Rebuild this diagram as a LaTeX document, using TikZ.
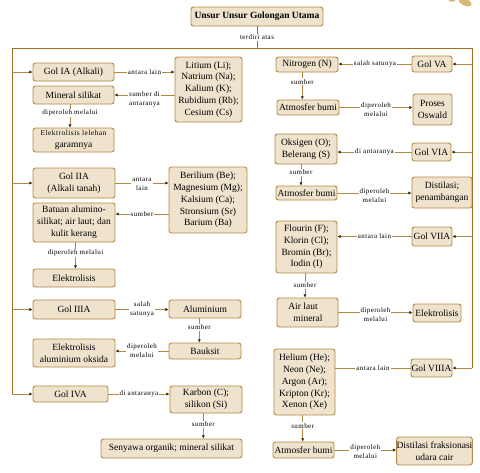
\documentclass[tikz,border=0pt]{standalone}
\usepackage{fontspec}
\setmainfont{Liberation Serif}
\newfontfamily\lblfont[LetterSpace=6]{Liberation Serif}
\usetikzlibrary{arrows.meta}
\definecolor{boxfill}{HTML}{EFE3CE}
\definecolor{boxdraw}{HTML}{B38A45}
\definecolor{linecol}{HTML}{B08840}
\definecolor{trunkcol}{HTML}{A0701F}
\definecolor{tipcol}{HTML}{3A2A12}
\definecolor{leafcol}{HTML}{D8B774}
\newcommand\bx[6]{\node[box, minimum width={(#4-#2)*1pt}, minimum height={(#5-#3)*1pt}] (#1) at ({(#2+#4)/2},{(#3+#5)/2}) {#6};}
\begin{document}
\begin{tikzpicture}[x=1pt,y=-1pt,
 box/.style={draw=boxdraw, fill=boxfill, line width=0.9pt, rounded corners=2.5pt, inner sep=0pt, align=center, font=\fontsize{9.5}{11.8}\selectfont},
 lbl/.style={fill=white, inner sep=1pt, align=center, font=\lblfont\fontsize{7}{9.2}\selectfont},
 conn/.style={draw=linecol, line width=0.9pt},
 arr/.style={conn, -{Latex[length=3.2pt,width=3.2pt,color=tipcol]}},
 trunk/.style={draw=trunkcol, line width=0.9pt}]
\useasboundingbox (0,0) rectangle (480,472);
\fill[white] (0,0) rectangle (480,472);
% decoration
\fill[leafcol, rotate around={-25:(465,2)}] (465,2) ellipse (7 and 3.5);
\fill[leafcol] (452,0) ellipse (3.5 and 1.8);

% title
\bx{title}{191}{7}{323}{26}{\bfseries Unsur Unsur Golongan Utama}
\coordinate (TT) at (257,48);
\coordinate (LT) at (12,48);
\coordinate (RT) at (472,48);

% left column
\bx{gia}{33}{63}{114}{81}{Gol IA (Alkali)}
\bx{lit}{175}{57}{242}{122}{Litium (Li);\\Natrium (Na);\\Kalium (K);\\Rubidium (Rb);\\Cesium (Cs)}
\bx{mins}{33}{86}{114}{104}{Mineral silikat}
\bx{ell}{33}{128}{114}{152}{\lblfont\fontsize{7.5}{10}\selectfont Elektrolisis lelehan\\garamnya}

\bx{giia}{33}{168}{115}{198}{Gol IIA\\(Alkali tanah)}
\bx{ber}{169}{167}{247}{233}{Berilium (Be);\\Magnesium (Mg);\\Kalsium (Ca);\\Stronsium (Sr)\\Barium (Ba)}
\bx{bat}{33}{203}{115}{242}{Batuan alumino-\\silikat; air laut; dan\\kulit kerang}
\bx{elk1}{33}{269}{115}{287}{Elektrolisis}

\bx{giiia}{33}{300}{115}{319}{Gol IIIA}
\bx{alu}{169}{300}{241}{318}{Aluminium}
\bx{baux}{169}{343}{241}{359}{Bauksit}
\bx{elal}{33}{339}{115}{367}{Elektrolisis\\aluminium oksida}

\bx{giva}{33}{386}{108}{402}{Gol IVA}
\bx{karb}{170}{386}{242}{413}{Karbon (C);\\silikon (Si)}
\bx{seny}{101}{439}{242}{458}{Senyawa organik; mineral silikat}

% right column
\bx{nit}{276}{57}{338}{72}{Nitrogen (N)}
\bx{gva}{412}{56}{452}{72}{Gol VA}
\bx{atm1}{277}{100}{339}{115}{Atmosfer bumi}
\bx{osw}{413}{94}{452}{125}{Proses\\Oswald}

\bx{oks}{275}{134}{337}{164}{Oksigen (O);\\Belerang (S)}
\bx{gvia}{412}{143}{451}{161}{Gol VIA}
\bx{atm2}{276}{186}{337}{200}{Atmosfer bumi}
\bx{dist}{412}{177}{472}{208}{Distilasi;\\penambangan}

\bx{flo}{276}{221}{337}{273}{Flourin (F);\\Klorin (Cl);\\Bromin (Br);\\Iodin (I)}
\bx{gviia}{412}{227}{452}{246}{Gol VIIA}
\bx{air}{277}{298}{338}{327}{Air laut\hspace*{9pt}\\\hspace*{1pt}mineral}
\bx{elk2}{413}{304}{461}{322}{Elektrolisis}

\bx{hel}{274}{349}{335}{415}{Helium (He);\\Neon (Ne);\\Argon (Ar);\\Kripton (Kr);\\Xenon (Xe)}
\bx{gviiia}{411}{359}{452}{377}{Gol VIIIA}
\bx{atm3}{273}{442}{334}{458}{Atmosfer bumi}
\bx{dfr}{397}{437}{472}{465}{Distilasi fraksionasi\\udara cair}

% trunk lines
\draw[trunk] (title.south) -- node[lbl]{terdiri atas} (TT);
\draw[trunk] (LT |- giva.west) -- (LT) -- (RT) -- (RT |- gviiia.east);
\draw[arr] (LT |- gia.west) -- (gia.west);
\draw[arr] (LT |- giia.west) -- (giia.west);
\draw[arr] (LT |- giiia.west) -- (giiia.west);
\draw[arr] (LT |- giva.west) -- (giva.west);
\draw[arr] (RT |- gva.east) -- (gva.east);
\draw[arr] (RT |- gvia.east) -- (gvia.east);
\draw[arr] (RT |- gviia.east) -- (gviia.east);
\draw[arr] (RT |- gviiia.east) -- (gviiia.east);

% left connectors
\draw[arr] (gia.east) -- node[lbl]{antara lain} (gia.east -| lit.west);
\draw[arr] (lit.west |- mins.east) -- node[lbl, yshift=-4pt]{sumber di\\antaranya} (mins.east);
\coordinate (m1) at ([xshift=-3.5pt]mins.south);
\draw[arr] (m1) -- node[lbl, pos=0.38]{diperoleh melalui} (m1 |- ell.north);

\draw[arr] (giia.east) -- node[lbl, yshift=-1pt]{antara\\lain} (giia.east -| ber.west);
\coordinate (batin) at ([yshift=8.5pt]bat.east);
\draw[arr] (ber.west |- batin) -- node[lbl]{sumber} (batin);
\coordinate (b1) at ([xshift=1.5pt]bat.south);
\draw[arr] (b1) -- node[lbl, pos=0.4]{diperoleh melalui} (b1 |- elk1.north);

\draw[arr] (giiia.east) -- node[lbl]{salah\\satunya} (giiia.east -| alu.west);
\coordinate (a1) at ([xshift=-5.7pt]alu.south);
\draw[arr] (a1) -- node[lbl, pos=0.36]{sumber} (a1 |- baux.north);
\draw[arr] (baux.west) -- node[lbl]{diperoleh\\melalui} (baux.west -| elal.east);

\draw[arr] (giva.east) -- node[lbl]{di antaranya} (giva.east -| karb.west);
\coordinate (k1) at ([xshift=-2.7pt]karb.south);
\draw[arr] (k1) -- node[lbl, pos=0.43]{sumber} (k1 |- seny.north);

% right connectors
\draw[arr] (gva.west) -- node[lbl]{salah satunya} (gva.west -| nit.east);
\coordinate (n1) at ([xshift=-4.7pt]nit.south);
\draw[arr] (n1) -- node[lbl, pos=0.35]{sumber} (n1 |- atm1.north);
\draw[arr] (atm1.east) -- node[lbl, yshift=-2pt]{diperoleh\\melalui} (atm1.east -| osw.west);

\draw[arr] (gvia.west) -- node[lbl]{di antaranya} (gvia.west -| oks.east);
\coordinate (o1) at ([xshift=-5pt]oks.south);
\draw[arr] (o1) -- node[lbl, pos=0.38]{sumber} (o1 |- atm2.north);
\draw[arr] (atm2.east) -- node[lbl, yshift=-3pt]{diperoleh\\melalui} (atm2.east -| dist.west);

\draw[arr] (gviia.west) -- node[lbl]{antara lain} (gviia.west -| flo.east);
\coordinate (f1) at ([xshift=-1.5pt]flo.south);
\draw[arr] (f1) -- node[lbl]{sumber} (f1 |- air.north);
\draw[arr] (air.east) -- node[lbl, yshift=-2.5pt]{diperoleh\\melalui} (air.east -| elk2.west);

\draw[conn] (gviiia.west) -- node[lbl]{antara lain} (gviiia.west -| hel.east);
\coordinate (h1) at ([xshift=-1.8pt]hel.south);
\draw[arr] (h1) -- node[lbl, pos=0.4]{sumber} (h1 |- atm3.north);
\draw[arr] (atm3.east) -- node[lbl, yshift=-1.5pt]{diperoleh\\melalui} (atm3.east -| dfr.west);
\end{tikzpicture}
\end{document}
